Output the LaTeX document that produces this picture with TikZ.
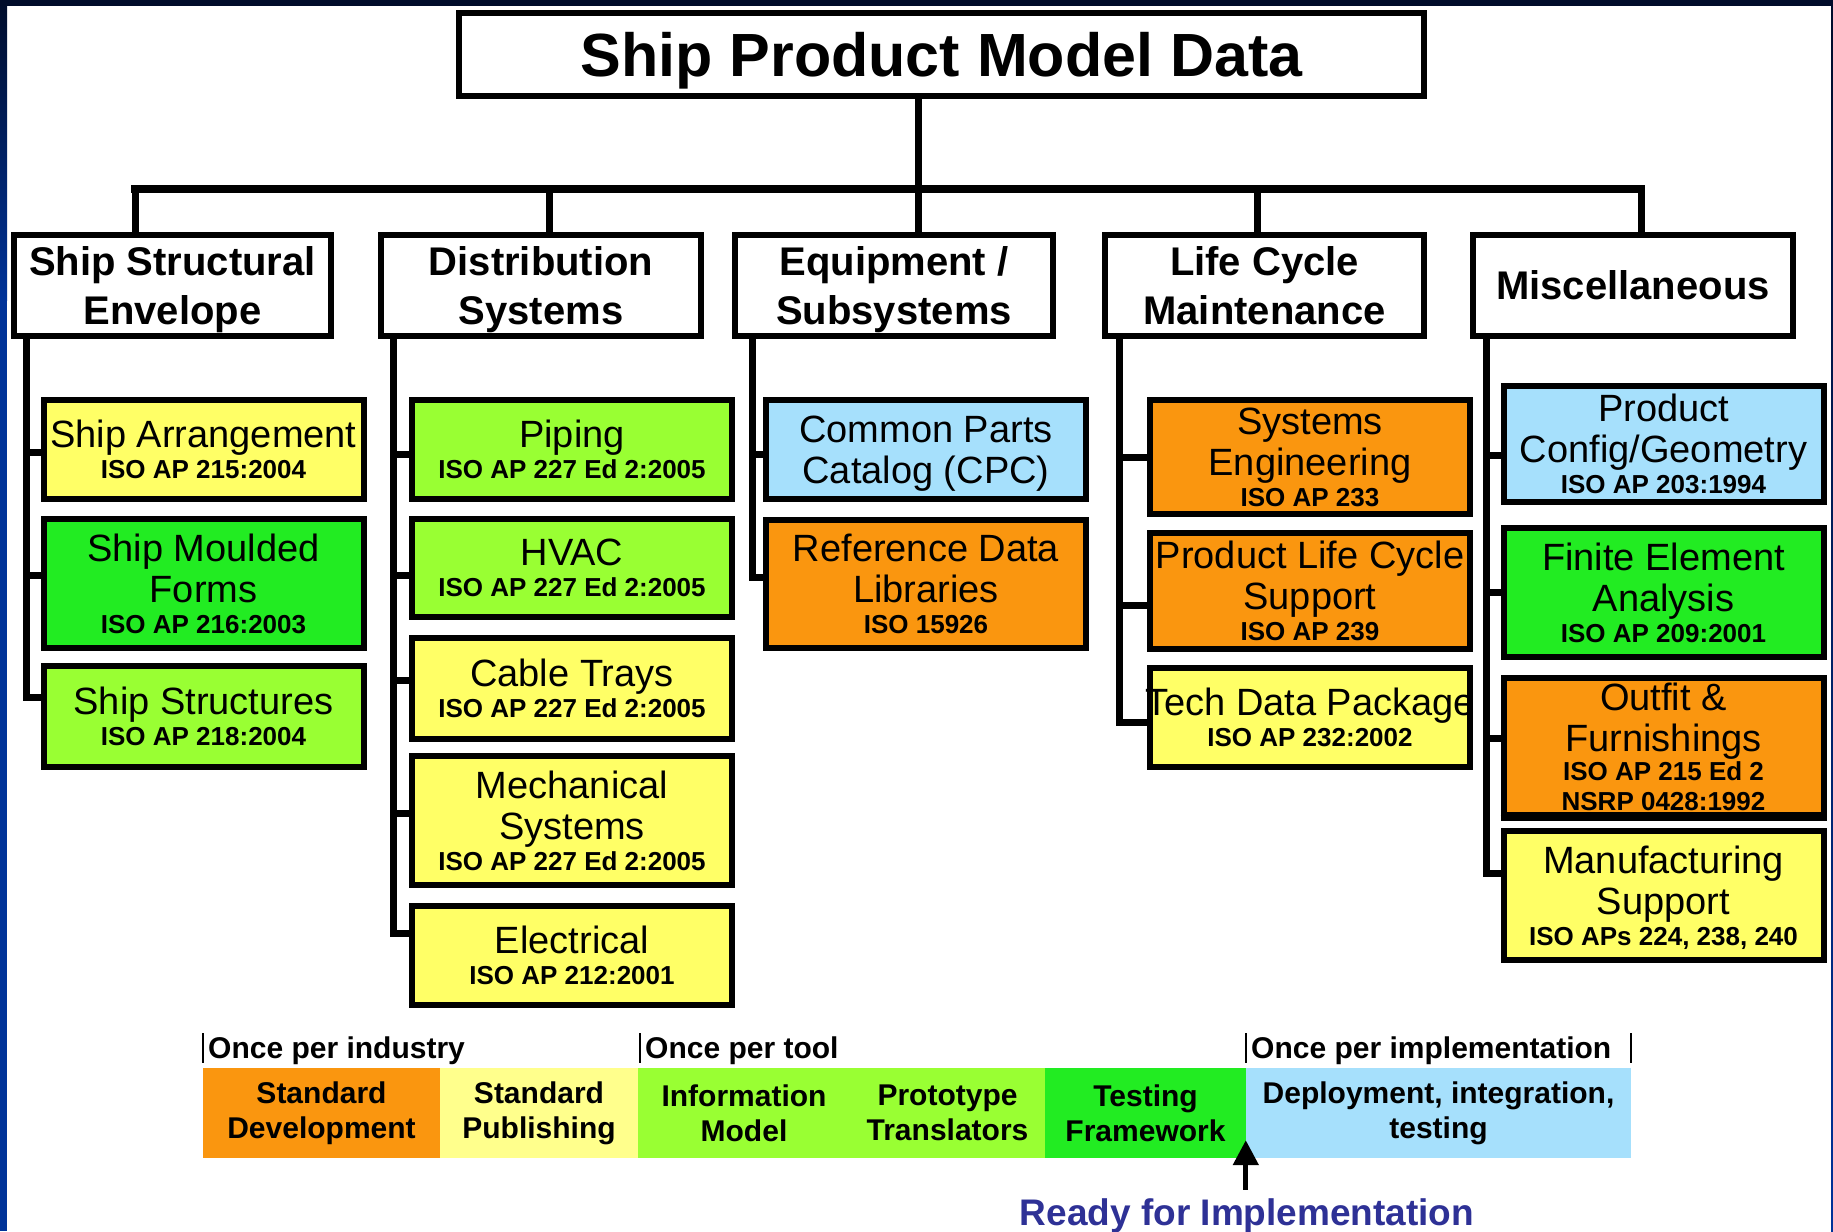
\documentclass[tikz,border=0pt]{standalone}
\usepackage{fontspec}
\setmainfont{Liberation Sans}
\usetikzlibrary{arrows.meta,calc}

\definecolor{navy}{RGB}{0,12,42}
\definecolor{frameblue}{RGB}{0,51,153}
\definecolor{boxyellow}{RGB}{255,255,102}
\definecolor{boxlime}{RGB}{153,255,51}
\definecolor{boxgreen}{RGB}{34,236,34}
\definecolor{boxorange}{RGB}{250,150,15}
\definecolor{boxsky}{RGB}{166,224,252}
\definecolor{bandyellow}{RGB}{255,255,140}
\definecolor{readyblue}{RGB}{46,49,150}

% standard reference line under an item label
\newcommand\stdref{\fontsize{26}{30}\selectfont\bfseries}
% a label line allowed to run past the box edges
\newcommand\spillover[1]{\makebox[0pt]{#1}}

\begin{document}
\begin{tikzpicture}[x=1pt,y=-1pt,
  frame/.style={draw=black, line width=6pt, inner sep=0pt, align=center, text=black,
    text depth=0pt},
  titlebox/.style={frame, fill=white, minimum width=965pt, minimum height=83pt,
    font=\fontsize{61}{70}\selectfont\bfseries},
  catbox/.style={frame, fill=white, minimum height=101pt,
    font=\fontsize{40}{49}\selectfont\bfseries},
  itembox/.style={frame, minimum width=320pt, font=\fontsize{38}{41}\selectfont},
  link/.style={line width=7pt},
  bus/.style={line width=8pt, line cap=rect},
  band/.style={inner sep=0pt, minimum height=90pt, align=center,
    font=\fontsize{30}{35}\selectfont\bfseries},
  phase/.style={font=\fontsize{30}{36}\selectfont\bfseries, inner sep=0pt, anchor=base west},
  tick/.style={line width=1.6pt},
]
\useasboundingbox (0,0) rectangle (1833,1231);

% page background and slide frame
\fill[white] (0,0) rectangle (1833,1231);
\shade[top color=navy, bottom color=frameblue] (0,0) rectangle (7,300);
\fill[frameblue] (0,300) rectangle (7,1231);
\shade[top color=navy, bottom color=frameblue] (1831,0) rectangle (1833,1231);
\fill[navy] (0,0) rectangle (1833,6);

% root
\node[titlebox] (title) at (941.5,54.5) {Ship Product Model Data};

% categories
\node[catbox, minimum width=317pt] (ss) at (172.5,285.5) {Ship Structural\\Envelope};
\node[catbox, minimum width=320pt] (ds) at (541,285.5) {Distribution\\Systems};
\node[catbox, minimum width=318pt] (eq) at (894,285.5) {Equipment /\\Subsystems};
\node[catbox, minimum width=319pt] (lc) at (1264.5,285.5) {Life Cycle\\Maintenance};
\node[catbox, minimum width=320pt] (mi) at (1633,285.5) {Miscellaneous};

% ship structural envelope
\node[itembox, fill=boxyellow, minimum height=99pt] (ss1) at (203.5,449.5)
  {Ship Arrangement\\[-10pt]{\stdref ISO AP 215:2004}};
\node[itembox, fill=boxgreen, minimum height=129pt] (ss2) at (203.5,583.5)
  {Ship Moulded\\Forms\\[-10pt]{\stdref ISO AP 216:2003}};
\node[itembox, fill=boxlime, minimum height=101pt] (ss3) at (203.5,716.5)
  {Ship Structures\\[-10pt]{\stdref ISO AP 218:2004}};

% distribution systems
\node[itembox, fill=boxlime, minimum height=99pt] (ds1) at (572,449.5)
  {Piping\\[-10pt]{\stdref ISO AP 227 Ed 2:2005}};
\node[itembox, fill=boxlime, minimum height=98pt] (ds2) at (572,568)
  {HVAC\\[-10pt]{\stdref ISO AP 227 Ed 2:2005}};
\node[itembox, fill=boxyellow, minimum height=101pt] (ds3) at (572,688.5)
  {Cable Trays\\[-10pt]{\stdref ISO AP 227 Ed 2:2005}};
\node[itembox, fill=boxyellow, minimum height=129pt] (ds4) at (572,820.5)
  {Mechanical\\Systems\\[-10pt]{\stdref ISO AP 227 Ed 2:2005}};
\node[itembox, fill=boxyellow, minimum height=99pt] (ds5) at (572,955.5)
  {Electrical\\[-10pt]{\stdref ISO AP 212:2001}};

% equipment / subsystems
\node[itembox, fill=boxsky, minimum height=99pt] (eq1) at (926,449.5)
  {Common Parts\\Catalog (CPC)};
\node[itembox, fill=boxorange, minimum height=128pt] (eq2) at (926,584)
  {Reference Data\\Libraries\\[-10pt]{\stdref ISO 15926}};

% life cycle maintenance
\node[itembox, fill=boxorange, minimum height=114pt] (lc1) at (1310,457)
  {Systems\\Engineering\\[-10pt]{\stdref ISO AP 233}};
\node[itembox, fill=boxorange, minimum height=116pt] (lc2) at (1310,591)
  {Product Life Cycle\\Support\\[-10pt]{\stdref ISO AP 239}};
\node[itembox, fill=boxyellow, minimum height=99pt] (lc3) at (1310,717.5)
  {\spillover{Tech Data Package}\\[-10pt]{\stdref ISO AP 232:2002}};

% miscellaneous
\node[itembox, fill=boxsky, minimum height=116pt] (mi1) at (1663.5,444)
  {Product\\Config/Geometry\\[-10pt]{\stdref ISO AP 203:1994}};
\node[itembox, fill=boxgreen, minimum height=129pt] (mi2) at (1663.5,592.5)
  {Finite Element\\Analysis\\[-10pt]{\stdref ISO AP 209:2001}};
\node[itembox, fill=boxorange, minimum height=137pt] (mi3) at (1663.5,746.5)
  {Outfit \&\\Furnishings\\[-12pt]{\stdref ISO AP 215 Ed 2}\\[-11pt]{\stdref NSRP 0428:1992}};
\draw[line width=6pt] (mi3.south west) -- (mi3.south east);
\node[itembox, fill=boxyellow, minimum height=129pt] (mi4) at (1663.5,895.5)
  {Manufacturing\\Support\\[-10pt]{\stdref ISO APs 224, 238, 240}};

% tree: root to categories
\coordinate (d1) at (135,189);
\coordinate (d2) at (549,189);
\coordinate (d3) at (918,189);
\coordinate (d4) at (1257,189);
\coordinate (d5) at (1641,189);
\draw[link] (title.south -| d3) -- (d3);
\draw[bus] (d1) -- (d5);
\draw[link] (d1) -- (d1 |- ss.north);
\draw[link] (d2) -- (d2 |- ds.north);
\draw[link] (d3) -- (d3 |- eq.north);
\draw[link] (d4) -- (d4 |- lc.north);
\draw[link] (d5) -- (d5 |- mi.north);

% tree: category spines to items
\coordinate (ssS) at (26,330);
\coordinate (dsS) at (393,330);
\coordinate (eqS) at (752,330);
\coordinate (lcS) at (1119,330);
\coordinate (miS) at (1486,330);

% attachment points on the item boxes
\coordinate (ss1w) at ([yshift=-3pt]ss1.west);
\coordinate (ss2w) at ([yshift=8pt]ss2.west);
\coordinate (ss3w) at ([yshift=19pt]ss3.west);
\coordinate (ds1w) at ([yshift=-5pt]ds1.west);
\coordinate (ds2w) at ([yshift=-7pt]ds2.west);
\coordinate (ds3w) at ([yshift=8pt]ds3.west);
\coordinate (ds4w) at ([yshift=7pt]ds4.west);
\coordinate (ds5w) at ([yshift=22pt]ds5.west);
\coordinate (eq1w) at ([yshift=-5pt]eq1.west);
\coordinate (eq2w) at ([yshift=7pt]eq2.west);
\coordinate (lc1w) at (lc1.west);
\coordinate (lc2w) at ([yshift=-14pt]lc2.west);
\coordinate (lc3w) at ([yshift=-5pt]lc3.west);
\coordinate (mi1w) at ([yshift=-11pt]mi1.west);
\coordinate (mi2w) at (mi2.west);
\coordinate (mi3w) at ([yshift=8pt]mi3.west);
\coordinate (mi4w) at ([yshift=22pt]mi4.west);

\draw[link] (ssS |- ss.south) |- (ss3w);
\draw[link] (ssS |- ss1w) -- (ss1w);
\draw[link] (ssS |- ss2w) -- (ss2w);

\draw[link] (dsS |- ds.south) |- (ds5w);
\draw[link] (dsS |- ds1w) -- (ds1w);
\draw[link] (dsS |- ds2w) -- (ds2w);
\draw[link] (dsS |- ds3w) -- (ds3w);
\draw[link] (dsS |- ds4w) -- (ds4w);

\draw[link] (eqS |- eq.south) |- (eq2w);
\draw[link] (eqS |- eq1w) -- (eq1w);

\draw[link] (lcS |- lc.south) |- (lc3w);
\draw[link] (lcS |- lc1w) -- (lc1w);
\draw[link] (lcS |- lc2w) -- (lc2w);

\draw[link] (miS |- mi.south) |- (mi4w);
\draw[link] (miS |- mi1w) -- (mi1w);
\draw[link] (miS |- mi2w) -- (mi2w);
\draw[link] (miS |- mi3w) -- (mi3w);

% process band
\node[band, fill=boxorange, minimum width=237pt] (b1) at (321.5,1113) {Standard\\Development};
\node[band, fill=bandyellow, minimum width=198pt] (b2) at (539,1113) {Standard\\Publishing};
\node[band, fill=boxlime, minimum width=212pt] (b3) at (744,1113) {Information\\Model};
\node[band, fill=boxlime, minimum width=195pt] (b4) at (947.5,1113) {Prototype\\Translators};
\node[band, fill=boxgreen, minimum width=201pt] (b5) at (1145.5,1113) {Testing\\Framework};
\node[band, fill=boxsky, minimum width=385pt] (b6) at (1438.5,1113) {Deployment, integration,\\testing};

% phase markers above the band
\draw[tick] (203,1033) -- (203,1063);
\draw[tick] (640,1033) -- (640,1063);
\draw[tick] (1246,1033) -- (1246,1063);
\draw[tick] (1631,1033) -- (1631,1063);
\node[phase] (p1) at (208,1058) {Once per industry};
\node[phase] (p2) at (645,1058) {Once per tool};
\node[phase] (p3) at (1251,1058) {Once per implementation};

% readiness marker
\node[font=\fontsize{37}{42}\selectfont\bfseries, text=readyblue, inner sep=0pt, anchor=base]
  (ready) at (1247,1225.5) {Ready for Implementation};
\coordinate (tip) at ([yshift=18pt]b6.south west);
\draw[line width=5pt, -{Triangle[width=25pt,length=25pt]}]
  ($(tip |- ready.north)+(0,-9)$) -- (tip);
\end{tikzpicture}
\end{document}
